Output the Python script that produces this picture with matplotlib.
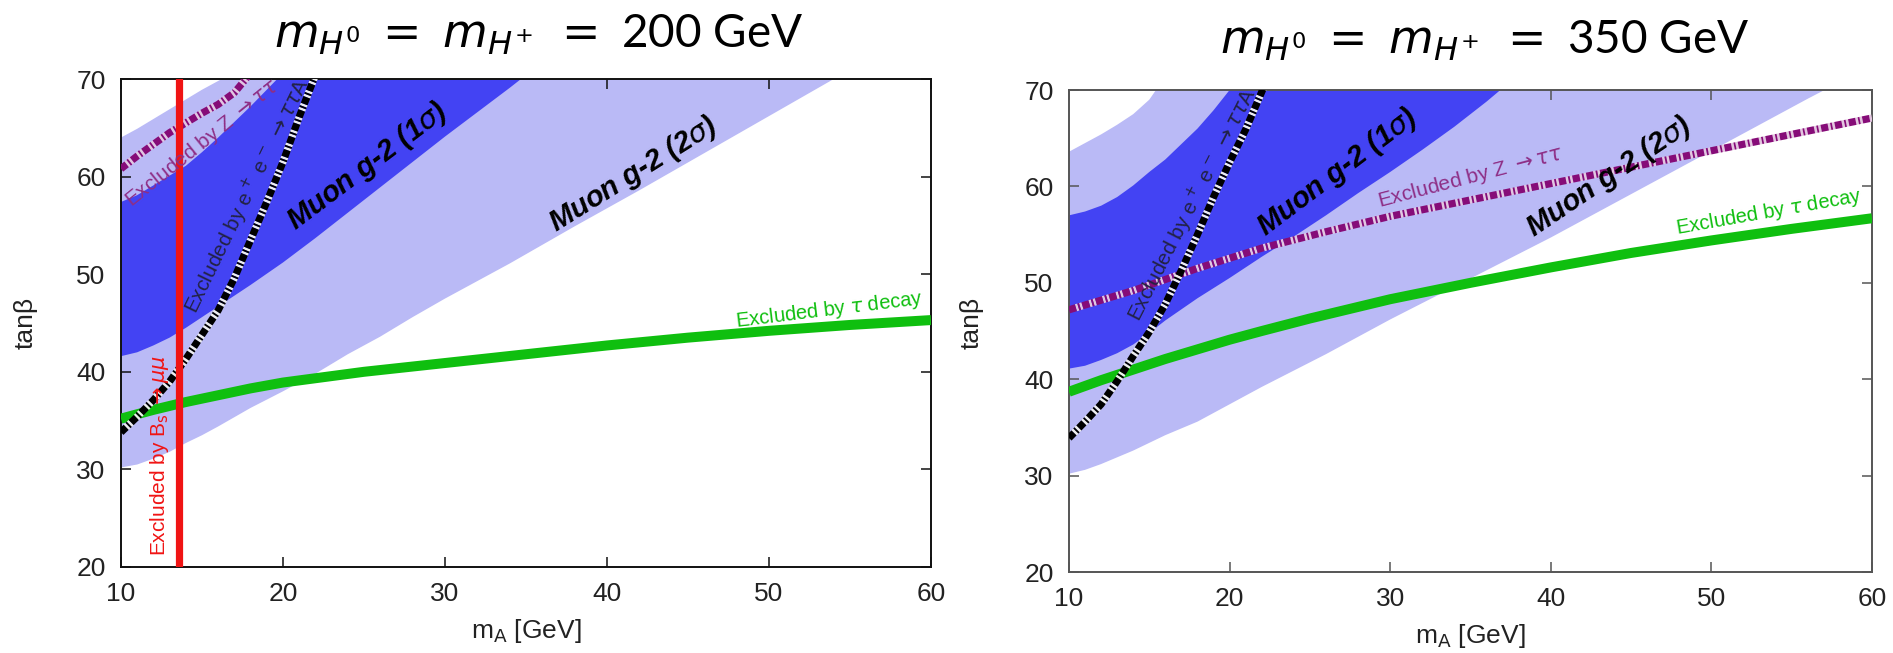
import numpy as np
import matplotlib
matplotlib.use("Agg")
import matplotlib.pyplot as plt

# ---------------- data: left panel (m_H0 = m_H+ = 200 GeV) ----------------
L_up2_x = [10, 11, 12, 13, 14, 15, 16, 17]
L_up2_y = [64.0, 64.9, 65.9, 66.9, 67.9, 68.9, 69.8, 70.7]
L_lo2_x = [10, 11, 12, 13, 14, 15, 16, 18, 20, 22, 24, 26, 28, 30, 34, 38, 42, 46, 50, 54, 55]
L_lo2_y = [30.2, 30.5, 31.1, 31.8, 32.7, 33.5, 34.4, 36.3, 38.0, 39.8, 41.8, 43.6, 45.6, 47.5,
           51.1, 54.9, 58.6, 62.4, 66.2, 70.0, 71.0]
L_up1_x = [10, 11, 12, 13, 14, 15, 16, 17, 18, 19, 20]
L_up1_y = [57.4, 58.1, 59.1, 60.1, 61.1, 62.5, 64.0, 65.6, 67.2, 68.9, 70.6]
L_lo1_x = [10, 11, 12, 13, 14, 15, 16, 18, 20, 22, 24, 26, 28, 30, 32, 34, 35]
L_lo1_y = [41.6, 42.0, 42.7, 43.5, 44.5, 45.6, 46.7, 48.9, 51.2, 53.7, 56.3, 58.9, 61.5, 64.1,
           66.6, 69.1, 70.4]
L_ee_x = [10, 11, 12, 13, 14, 15, 16, 17, 18, 19, 20, 21, 22]
L_ee_y = [33.8, 35.4, 37.1, 39.0, 41.3, 43.8, 46.3, 49.6, 53.5, 57.4, 61.5, 66.1, 70.4]
L_z_x = [10, 11, 12, 13, 14, 15, 16, 17, 17.8]
L_z_y = [60.8, 62.1, 63.3, 64.5, 65.5, 66.5, 67.4, 68.6, 70.2]
L_tau_x = [10, 12, 14, 16, 18, 20, 25, 30, 35, 40, 45, 50, 55, 60]
L_tau_y = [35.2, 36.1, 36.9, 37.6, 38.3, 38.9, 40.0, 40.9, 41.8, 42.7, 43.5, 44.2, 44.8, 45.3]
L_bs_x = 13.6

# ---------------- data: right panel (m_H0 = m_H+ = 350 GeV) ----------------
R_up2_x = [10, 11, 12, 13, 14, 15, 15.5]
R_up2_y = [63.6, 64.5, 65.4, 66.4, 67.5, 69.0, 70.2]
R_lo2_x = [10, 11, 12, 13, 14, 16, 18, 20, 22, 24, 26, 28, 30, 32, 36, 40, 44, 48, 52, 56, 57.5]
R_lo2_y = [30.2, 30.6, 31.2, 31.9, 32.6, 34.2, 35.6, 37.4, 39.2, 40.9, 42.6, 44.4, 46.2, 47.9,
           51.3, 54.7, 58.3, 61.9, 65.5, 69.1, 70.4]
R_up1_x = [10, 11, 12, 13, 14, 15, 16, 17, 18, 19, 20, 21]
R_up1_y = [57.0, 57.4, 58.0, 58.9, 60.1, 61.5, 62.8, 64.4, 66.0, 67.9, 70.0, 72.0]
R_lo1_x = [10, 11, 12, 13, 14, 15, 16, 18, 20, 22, 24, 26, 28, 30, 32, 34, 36, 37]
R_lo1_y = [41.1, 41.4, 42.0, 42.7, 43.6, 44.8, 46.1, 48.4, 50.5, 52.7, 54.8, 57.0, 59.3, 61.5,
           63.8, 66.2, 68.8, 70.2]
R_ee_x = [10, 11, 12, 13, 14, 15, 16, 17, 18, 19, 20, 21, 22, 22.2]
R_ee_y = [33.9, 35.6, 37.4, 39.8, 42.4, 44.9, 47.8, 51.3, 55.0, 58.9, 62.5, 65.9, 69.8, 70.6]
R_z_x = [10, 14, 18, 22, 26, 30, 35, 40, 45, 50, 55, 60]
R_z_y = [47.2, 49.2, 51.5, 53.6, 55.3, 56.9, 58.6, 60.3, 62.0, 63.7, 65.4, 67.1]
R_tau_x = [10, 12, 14, 16, 18, 20, 22, 25, 30, 35, 40, 45, 50, 55, 60]
R_tau_y = [38.7, 39.9, 41.0, 42.1, 43.1, 44.1, 45.0, 46.3, 48.3, 50.0, 51.6, 53.1, 54.4, 55.6, 56.7]

x_ticks = [10, 20, 30, 40, 50, 60]
y_ticks = [20, 30, 40, 50, 60, 70]
titles = [r"$m_{H^0}\;=\;m_{H^{\!+}}\;=\;$200 GeV", r"$m_{H^0}\;=\;m_{H^{\!+}}\;=\;$350 GeV"]

C_LIGHT = "#babaf6"
C_DARK = "#4343f3"
C_GREEN = "#0fbf0f"
C_RED = "#f01414"
C_PURPLE = "#860c78"
C_PURPLE_TXT = "#8e2e86"

TXT = ["Liberation Sans", "DejaVu Sans"]

fig = plt.figure(figsize=(18.93, 6.53), dpi=100)
axL = fig.add_axes([0.0639, 0.1317, 0.4279, 0.7473])
axR = fig.add_axes([0.5647, 0.1240, 0.4242, 0.7381])


def band(ax, ux, uy, lx, ly, color, z):
    xs = list(ux) + [61, 61] + list(lx)[::-1]
    ys = list(uy) + [80, 80] + list(ly)[::-1]
    ax.fill(xs, ys, color=color, lw=0, zorder=z)


def dashdot(ax, x, y, color, gap, z):
    ax.plot(x, y, color=color, lw=5.2, dashes=(1.0, 0.35, 0.25, 0.35),
            gapcolor=gap, zorder=z, solid_capstyle="butt", dash_capstyle="butt")


def style(ax, frame):
    ax.set_xlim(10, 60)
    ax.set_ylim(20, 70)
    ax.set_xticks(x_ticks)
    ax.set_yticks(y_ticks)
    ax.tick_params(direction="in", top=True, right=True, length=7, width=1.1,
                   labelsize=19, pad=11, color=frame)
    for lab in ax.get_xticklabels() + ax.get_yticklabels():
        lab.set_family(TXT)
        lab.set_color("#222222")
    for sp in ax.spines.values():
        sp.set_color(frame)
        sp.set_linewidth(1.4)
    ax.set_xlabel(r"m$_\mathrm{A}$ [GeV]", fontsize=19, family=TXT, labelpad=8, color="#222222")


# ---------------- left panel ----------------
ax = axL
band(ax, L_up2_x, L_up2_y, L_lo2_x, L_lo2_y, C_LIGHT, 1)
band(ax, L_up1_x, L_up1_y, L_lo1_x, L_lo1_y, C_DARK, 2)
ax.plot(L_tau_x, L_tau_y, color=C_GREEN, lw=7.2, zorder=3, solid_capstyle="butt")
dashdot(ax, L_z_x, L_z_y, C_PURPLE, "#e3c6e0", 4)
dashdot(ax, L_ee_x, L_ee_y, "black", "#eeeeee", 5)
ax.axvline(L_bs_x, color=C_RED, lw=5.2, zorder=6)
style(ax, "#111111")

ax.text(15.0, 63.4, r"Excluded by Z $\rightarrow\tau\tau$", rotation=38.7, rotation_mode="anchor",
        ha="center", va="center", fontsize=15, family=TXT, color=C_PURPLE_TXT, zorder=7, clip_on=True)
ax.text(17.8, 58.0, r"Excluded by e$^+$ e$^-$ $\rightarrow\tau\tau$A", rotation=64, rotation_mode="anchor",
        ha="center", va="center", fontsize=15, family=TXT, color="#222244", zorder=7)
ax.text(12.4, 31.4, r"Excluded by B$_\mathrm{s}$ $\rightarrow\mu\mu$", rotation=90, rotation_mode="anchor",
        ha="center", va="center", fontsize=15, family=TXT, color=C_RED, zorder=7)
ax.text(53.7, 46.3, r"Excluded by $\tau$ decay", rotation=7, rotation_mode="anchor",
        ha="center", va="center", fontsize=14.5, family=TXT, color=C_GREEN, zorder=7)
ax.text(25.2, 61.1, r"Muon g-2 (1$\sigma$)", rotation=37, rotation_mode="anchor",
        ha="center", va="center", fontsize=21, family=TXT, weight="bold", style="italic",
        color="black", zorder=8)
ax.text(41.6, 60.2, r"Muon g-2 (2$\sigma$)", rotation=32, rotation_mode="anchor",
        ha="center", va="center", fontsize=21, family=TXT, weight="bold", style="italic",
        color="black", zorder=8)

# ---------------- right panel ----------------
ax = axR
band(ax, R_up2_x, R_up2_y, R_lo2_x, R_lo2_y, C_LIGHT, 1)
band(ax, R_up1_x, R_up1_y, R_lo1_x, R_lo1_y, C_DARK, 2)
ax.plot(R_tau_x, R_tau_y, color=C_GREEN, lw=7.2, zorder=3, solid_capstyle="butt")
dashdot(ax, R_z_x, R_z_y, C_PURPLE, "#e3c6e0", 4)
dashdot(ax, R_ee_x, R_ee_y, "black", "#eeeeee", 5)
style(ax, "#555555")

ax.text(17.7, 58.1, r"Excluded by e$^+$ e$^-$ $\rightarrow\tau\tau$A", rotation=63, rotation_mode="anchor",
        ha="center", va="center", fontsize=15, family=TXT, color="#222244", zorder=7)
ax.text(35.0, 60.9, r"Excluded by Z $\rightarrow\tau\tau$", rotation=14.7, rotation_mode="anchor",
        ha="center", va="center", fontsize=15, family=TXT, color=C_PURPLE_TXT, zorder=7)
ax.text(53.6, 57.3, r"Excluded by $\tau$ decay", rotation=10, rotation_mode="anchor",
        ha="center", va="center", fontsize=14.5, family=TXT, color=C_GREEN, zorder=7)
ax.text(26.7, 61.5, r"Muon g-2 (1$\sigma$)", rotation=37, rotation_mode="anchor",
        ha="center", va="center", fontsize=21, family=TXT, weight="bold", style="italic",
        color="black", zorder=8)
ax.text(43.6, 61.0, r"Muon g-2 (2$\sigma$)", rotation=34, rotation_mode="anchor",
        ha="center", va="center", fontsize=21, family=TXT, weight="bold", style="italic",
        color="black", zorder=8)

# y labels and titles
fig.text(0.0135, 0.505, "tanβ", rotation=90, ha="center", va="center", fontsize=19, family=TXT,
         color="#222222")
fig.text(0.5135, 0.505, "tanβ", rotation=90, ha="center", va="center", fontsize=19, family=TXT,
         color="#222222")
fig.text(0.2848, 0.928, titles[0], ha="center", va="baseline", fontsize=33,
         family=["Lato", "DejaVu Sans"], math_fontfamily="dejavusans", color="black")
fig.text(0.7845, 0.9188, titles[1], ha="center", va="baseline", fontsize=33,
         family=["Lato", "DejaVu Sans"], math_fontfamily="dejavusans", color="black")

fig.savefig("out.png", dpi=100, facecolor="white")
